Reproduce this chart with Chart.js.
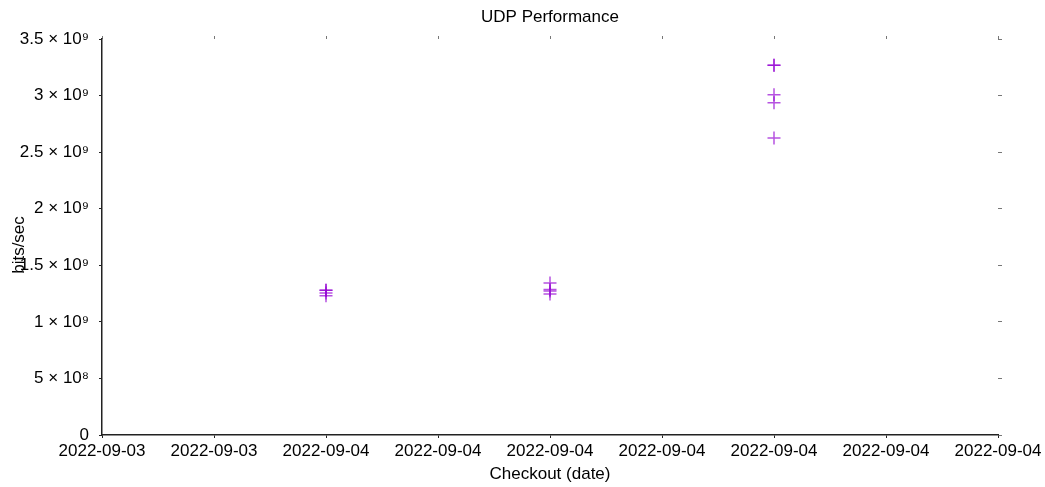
<!DOCTYPE html>
<html><head><meta charset="utf-8">
<script src="https://cdn.jsdelivr.net/npm/chart.js@4/dist/chart.umd.min.js"></script>
<style>html,body{margin:0;padding:0;background:#fff}canvas{display:block}</style>
</head><body>
<canvas id="c" width="1045" height="487"></canvas>
<script>
const chartTitle = 'UDP Performance';
const xTitle = 'Checkout (date)';
const yTitle = 'bits/sec';
const dateTicks = ['2022-09-03','2022-09-03','2022-09-04','2022-09-04','2022-09-04','2022-09-04','2022-09-04','2022-09-04','2022-09-04'];
const yTickLabels = ['0','5 × 10⁸','1 × 10⁹','1.5 × 10⁹','2 × 10⁹','2.5 × 10⁹','3 × 10⁹','3.5 × 10⁹'];
const yMax = 3.5e9;
const yStep = 5e8;
const checkoutIndex = [2,2,2,2, 4,4,4,4, 6,6,6,6,6];
const bitsPerSec = [1.28e9,1.28e9,1.255e9,1.23e9, 1.343e9,1.286e9,1.273e9,1.246e9, 3.267e9,3.267e9,3.008e9,2.937e9,2.625e9];

const FONT = '"Liberation Sans", Arial, sans-serif';
const points = checkoutIndex.map((x, i) => ({x: x, y: bitsPerSec[i]}));

const titlePlugin = {
  id: 'plotTitles',
  afterDraw(chart) {
    const {ctx, chartArea} = chart;
    ctx.save();
    ctx.font = '17px ' + FONT;
    ctx.fillStyle = '#000';
    ctx.textAlign = 'center';
    ctx.textBaseline = 'middle';
    ctx.fillText(chartTitle, (chartArea.left + chartArea.right) / 2, 17);
    ctx.translate(19, (chartArea.top + chartArea.bottom) / 2 + 8);
    ctx.rotate(-Math.PI / 2);
    ctx.fillText(yTitle, 0, 0);
    ctx.restore();
  }
};

new Chart(document.getElementById('c'), {
  type: 'scatter',
  data: {
    datasets: [{
      data: points,
      pointStyle: 'cross',
      pointRadius: 6.5,
      pointBorderWidth: 1.5,
      borderColor: 'rgba(148,0,211,0.68)',
      backgroundColor: 'rgba(148,0,211,0.68)',
      showLine: false
    }]
  },
  plugins: [titlePlugin],
  options: {
    responsive: false,
    animation: false,
    events: [],
    layout: {padding: 0},
    plugins: {legend: {display: false}, tooltip: {enabled: false}, title: {display: false}},
    scales: {
      x: {
        type: 'linear', position: 'bottom', min: 0, max: dateTicks.length - 1,
        afterFit: s => { s.height = 52; },
        ticks: {stepSize: 1, autoSkip: false, maxRotation: 0, padding: 3, color: '#000',
          font: {family: FONT, size: 17},
          callback: v => dateTicks[v] !== undefined ? dateTicks[v] : ''},
        grid: {drawOnChartArea: false, tickLength: 3, color: '#222', tickWidth: 1},
        border: {display: true, color: '#222', width: 1.5},
        title: {display: true, text: xTitle, color: '#000', font: {family: FONT, size: 17}, padding: {top: 0, bottom: 2}}
      },
      x2: {
        type: 'linear', position: 'top', min: 0, max: dateTicks.length - 1,
        afterFit: s => { s.height = 39; },
        ticks: {display: false, stepSize: 1},
        grid: {drawOnChartArea: false, tickLength: 3, color: '#777', tickWidth: 1},
        border: {display: false}
      },
      y: {
        type: 'linear', position: 'left', min: 0, max: yMax,
        afterFit: s => { s.width = 102; },
        ticks: {stepSize: yStep, padding: 10, color: '#000', font: {family: FONT, size: 17},
          callback: v => { const k = Math.round(v / yStep); return yTickLabels[k] !== undefined ? yTickLabels[k] : ''; }},
        grid: {drawOnChartArea: false, tickLength: 3, color: '#222', tickWidth: 1},
        border: {display: true, color: '#222', width: 1.5}
      },
      y2: {
        type: 'linear', position: 'right', min: 0, max: yMax,
        afterFit: s => { s.width = 47; },
        ticks: {display: false, stepSize: yStep},
        grid: {drawOnChartArea: false, tickLength: 4, color: '#777', tickWidth: 1},
        border: {display: false}
      }
    }
  }
});
</script>
</body></html>
